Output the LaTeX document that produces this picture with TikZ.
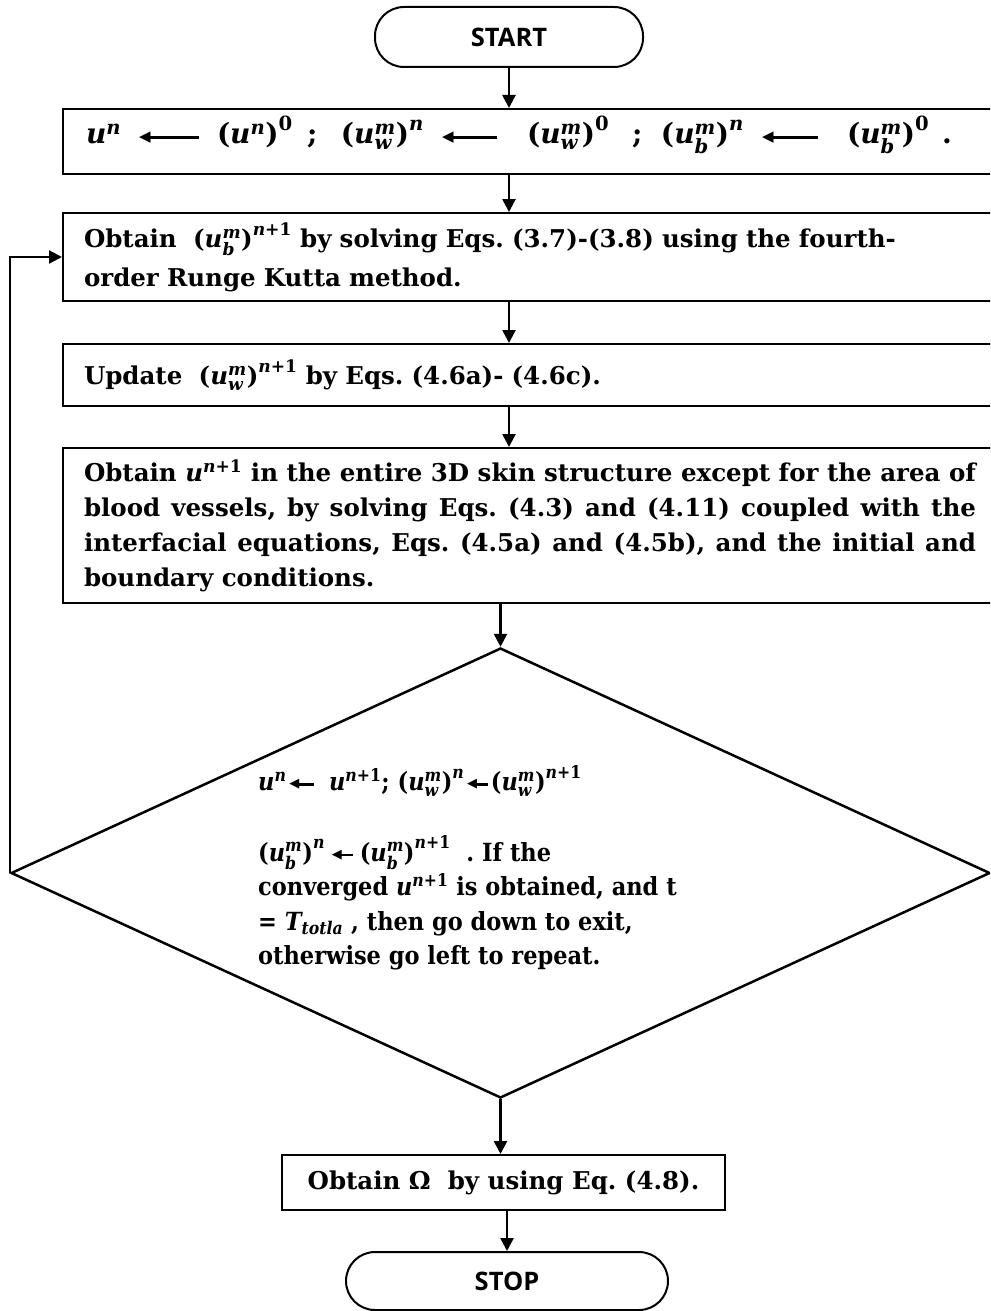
\documentclass[tikz,border=0pt]{standalone}
\usepackage{amsmath}
\usepackage{fontspec}
\usetikzlibrary{arrows.meta,shapes.geometric,calc}
\newfontfamily\termfont{Open Sans}
\newfontfamily\symf{DejaVu Sans}
\newfontfamily\bkf{DejaVu Serif}
\newfontfamily\dkf[FakeStretch=0.9]{DejaVu Serif}
\newcommand\bkfont{\bkf\bfseries\fontsize{24.5}{35}\selectfont\frenchspacing}
\newcommand\dmfont{\dkf\bfseries\fontsize{25}{34.5}\selectfont\frenchspacing}
\newcommand\eqfont{\bkf\bfseries\fontsize{28}{34}\selectfont}
\newcommand\seg[2]{\makebox[#1pt][l]{#2}}
\newcommand\vi[1]{\text{\itshape #1}}
\newcommand\vu[1]{\text{#1}}
\newcommand\U{\vi{u}}
\newcommand\uwm{\U_{\vi{w}}^{\vi{m}}}
\newcommand\ubm{\U_{\vi{b}}^{\vi{m}}}
\newcommand\np{\vi{n}\vu{+1}}
% bold arrow glyph: filled head + shaft, both centred on the math axis
\newcommand\larrm[3]{\vcenter{\hbox{\symf\fontsize{#2}{#2}\selectfont ◀}}\kern-2pt\vcenter{\hrule width #1 height #3}}
\newcommand\larr[1]{$\larrm{#1}{15}{2.8pt}$}
\newcommand\sarr[1]{\mathrel{\larrm{#1}{13}{2.4pt}}}
\tikzset{
  term/.style={draw, line width=2pt, rounded corners=29pt, inner sep=0pt,
    font={\termfont\bfseries\fontsize{25.5}{28}\selectfont}},
  procbox/.style={draw, line width=2pt, anchor=north west, minimum width=934pt,
    text width=892pt, inner xsep=21pt, inner ysep=0pt, align=justify, font=\bkfont},
  arr/.style={draw, line width=2.6pt, -{Triangle[length=13pt,width=13pt]}},
}
\begin{document}
\begin{tikzpicture}[x=1pt,y=-1pt]
\useasboundingbox (0,0) rectangle (990,1311);
\clip (0,0) rectangle (990,1311);

\node[term, minimum width=268pt, minimum height=60pt] (start) at (509,37) {START};

\node[procbox, minimum height=65pt, font=\eqfont] (b1) at (62,108)
  {\raisebox{-2pt}[0pt][0pt]{\hspace*{2pt}\seg{53}{$\U^{\vi{n}}$}\seg{78}{\larr{50pt}}\seg{90}{$\vu{(}\U^{\vi{n}}\vu{)}^{\vu{0}}$}\seg{34}{;}\seg{101}{$\vu{(}\uwm\vu{)}^{\vi{n}}$}\seg{85}{\larr{45pt}}\seg{105}{$\vu{(}\uwm\vu{)}^{\vu{0}}$}\seg{29}{;}\seg{101}{$\vu{(}\ubm\vu{)}^{\vi{n}}$}\seg{85}{\larr{46pt}}\seg{95}{$\vu{(}\ubm\vu{)}^{\vu{0}}$}.}};

\node[procbox, minimum height=88pt, align=left] (b2) at (62,212)
  {Obtain \ $\vu{(}\ubm\vu{)}^{\np}$ by solving Eqs. (3.7)-(3.8) using the fourth-\\[4pt]order Runge Kutta method.};

\node[procbox, minimum height=62pt, align=left] (b3) at (62,343)
  {Update \ $\vu{(}\uwm\vu{)}^{\np}$ by Eqs. (4.6a)- (4.6c).};

\node[procbox, minimum height=155pt] (b5) at (62,447)
  {Obtain $\U^{\np}$ in the entire 3D skin structure except for the area of\linebreak
   blood vessels, by solving Eqs. (4.3) and (4.11) coupled with the\linebreak
   interfacial equations, Eqs. (4.5a) and (4.5b), and the initial and\linebreak
   boundary conditions.};

\node[draw, diamond, line width=2.5pt, minimum width=979pt, minimum height=450pt, inner sep=0pt] (dec) at (500.5,873) {};

\node[anchor=north west, inner sep=0pt, align=left, font=\dmfont] (dtxt) at (258,765)
  {$\U^{\vi{n}}\!\sarr{17pt}\ \U^{\np}$; $\vu{(}\uwm\vu{)}^{\vi{n}}\!\sarr{13pt}\!\vu{(}\uwm\vu{)}^{\np}$\\[36pt]
   $\vu{(}\ubm\vu{)}^{\vi{n}} \sarr{13pt} \vu{(}\ubm\vu{)}^{\np}$\ \ . If the\\
   converged $\U^{\np}$ is obtained, and t\\
   = $\vi{T}_{\vi{totla}}$ , then go down to exit,\\
   otherwise go left to repeat.};

\node[draw, line width=2pt, minimum width=443pt, minimum height=55pt, inner sep=0pt, font=\bkfont] (om) at (503.5,1182.5)
  {Obtain Ω\ \ by using Eq. (4.8).};

\node[term, minimum width=322pt, minimum height=58pt] (stop) at (507,1281) {STOP};

\draw[arr] (start.south) -- (start.south |- b1.north);
\draw[arr] (start.south |- b1.south) -- (start.south |- b2.north);
\draw[arr] (start.south |- b2.south) -- (start.south |- b3.north);
\draw[arr] (start.south |- b3.south) -- (start.south |- b5.north);
\draw[arr] (dec.north |- b5.south) -- (dec.north);
\draw[arr] (dec.south) -- (dec.south |- om.north);
\draw[arr] (stop.north |- om.south) -- (stop.north);
\draw[arr, line width=2.2pt] (dec.west) -- (dec.west |- b2.west) -- (b2.west);
\end{tikzpicture}
\end{document}
